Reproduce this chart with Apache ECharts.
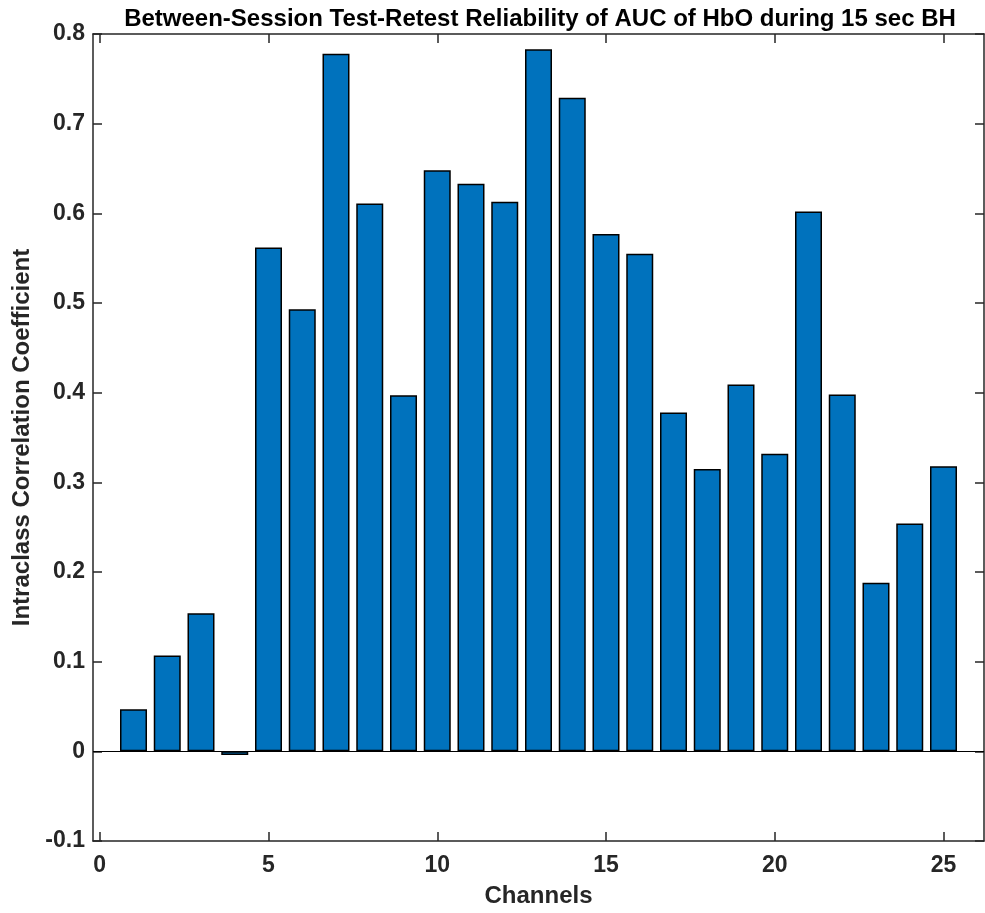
<!DOCTYPE html>
<html>
<head>
<meta charset="utf-8">
<script src="https://cdn.jsdelivr.net/npm/echarts@6/dist/echarts.min.js"></script>
<style>html,body{margin:0;padding:0;background:#fff;}#chart{width:985px;height:913px;}</style>
</head>
<body>
<div id="chart"></div>
<script>
const channels = [1,2,3,4,5,6,7,8,9,10,11,12,13,14,15,16,17,18,19,20,21,22,23,24,25];
const icc = [0.047,0.107,0.154,-0.004,0.562,0.493,0.778,0.611,0.397,0.648,0.633,0.613,0.783,0.729,0.577,0.555,0.378,0.315,0.409,0.332,0.602,0.398,0.188,0.254,0.318];
const xTicks = [0,5,10,15,20,25];
const yTicks = [-0.1,0,0.1,0.2,0.3,0.4,0.5,0.6,0.7,0.8];

const chart = echarts.init(document.getElementById('chart'), null, {renderer:'canvas'});
const axisColor = '#262626';
const font = 'Liberation Sans, Arial, Helvetica, sans-serif';
function xAxisCfg(pos, showLabel){
  return {
    type:'value', position:pos, min:-0.2, max:26.2,
    axisLine:{show:true, onZero:false, lineStyle:{color:axisColor, width:1.5}},
    axisTick:{show:true, inside:true, length:9, customValues:xTicks, lineStyle:{color:axisColor, width:1.5}},
    axisLabel:{show:showLabel, customValues:xTicks, color:axisColor, fontFamily:font, fontWeight:'bold', fontSize:23, margin:13},
    splitLine:{show:false},
    name: showLabel ? 'Channels' : '',
    nameLocation:'middle', nameGap:43,
    nameTextStyle:{color:axisColor, fontFamily:font, fontWeight:'bold', fontSize:24}
  };
}
function yAxisCfg(pos, showLabel){
  return {
    type:'value', position:pos, min:-0.1, max:0.8, interval:0.1,
    axisLine:{show:true, onZero:false, lineStyle:{color:axisColor, width:1.5}},
    axisTick:{show:true, inside:true, length:9, lineStyle:{color:axisColor, width:1.5}},
    axisLabel:{show:showLabel, color:axisColor, fontFamily:font, fontWeight:'bold', fontSize:23, margin:8,
      formatter:function(v){ const r = Math.round(v*10)/10; return r === 0 ? '0' : String(r); }},
    splitLine:{show:false},
    name: showLabel ? 'Intraclass Correlation Coefficient' : '',
    nameLocation:'middle', nameGap:59, nameRotate:90,
    nameTextStyle:{color:axisColor, fontFamily:font, fontWeight:'bold', fontSize:24}
  };
}
chart.setOption({
  animation:false,
  backgroundColor:'#fff',
  title:{
    text:'Between-Session Test-Retest Reliability of AUC of HbO during 15 sec BH',
    left:535, top:2, textAlign:'center',
    textStyle:{color:'#000', fontFamily:font, fontWeight:'bold', fontSize:24}
  },
  grid:{left:93, right:1, top:34, bottom:68, containLabel:false},
  xAxis:[xAxisCfg('bottom', true), xAxisCfg('top', false)],
  yAxis:[yAxisCfg('left', true), yAxisCfg('right', false)],
  series:[{
    type:'bar',
    xAxisIndex:0, yAxisIndex:0,
    data: channels.map((c,i)=>[c, icc[i]]),
    barWidth:27,
    itemStyle:{color:'#0072BD', borderColor:'#000', borderWidth:1.5},
    markLine:{
      silent:true, symbol:['none','none'], label:{show:false},
      lineStyle:{color:'#000', width:1.2, type:'solid'},
      data:[{yAxis:0}]
    }
  }]
});
</script>
</body>
</html>
